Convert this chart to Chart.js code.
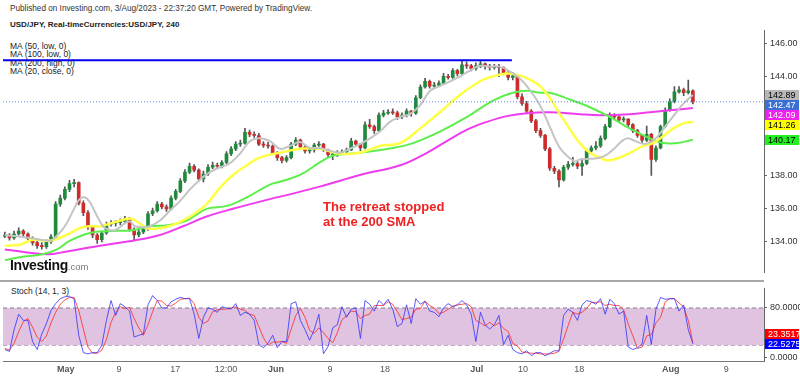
<!DOCTYPE html>
<html>
<head>
<meta charset="utf-8">
<script src="https://cdn.jsdelivr.net/npm/chart.js@4.4.0/dist/chart.umd.min.js"></script>
<style>
  body { margin:0; background:#fff; width:800px; height:376px; overflow:hidden; position:relative;
         font-family:"Liberation Sans", Arial, sans-serif; }
  canvas { position:absolute; left:0; }
  #main { top:0; }
  #stoch { top:280px; }
  .t { position:absolute; white-space:nowrap; color:#222; }
</style>
</head>
<body>
<div class="t" style="left:10px;top:4px;font-size:8.2px;color:#333">Published on Investing.com, 3/Aug/2023 - 22:37:20 GMT, Powered by TradingView.</div>
<div class="t" style="left:10px;top:20px;font-size:8px;font-weight:bold">USD/JPY, Real-timeCurrencies:USD/JPY, 240</div>
<div class="t" style="left:10px;top:41.5px;font-size:8.5px;line-height:8.5px">MA (50, low, 0)<br>MA (100, low, 0)<br>MA (200, high, 0)<br>MA (20, close, 0)</div>
<div class="t" style="left:11px;top:286px;font-size:8.5px">Stoch (14, 1, 3)</div>

<canvas id="main" width="800" height="281"></canvas>
<canvas id="stoch" width="800" height="96"></canvas>

<div class="t" style="left:323px;top:199px;font-size:13px;font-weight:bold;line-height:15px;color:#ee2222">The retreat stopped<br>at the 200 SMA</div>
<div class="t" style="left:10px;top:257px;font-size:14px;font-weight:bold;letter-spacing:-0.4px;color:#111">Investing<span style="font-size:9.5px;font-weight:normal;color:#777;letter-spacing:0">.com</span></div>

<script>
// 12h candles, index 0 = mid April, last = 3 Aug
var opens = [134.30,134.37,134.19,134.43,134.61,134.43,134.14,133.90,133.72,133.66,
  133.96,134.25,136.25,136.61,137.14,137.49,137.55,136.31,135.72,134.84,
  134.37,134.08,134.49,135.02,135.08,135.12,135.19,135.37,134.72,134.37,
  134.55,134.72,135.66,135.84,136.25,136.08,135.96,136.61,137.02,137.66,
  138.19,138.55,138.31,137.78,138.08,138.49,138.61,138.55,138.78,139.31,
  139.61,139.90,139.96,140.61,140.49,140.42,139.90,139.84,139.78,139.37,
  139.08,138.90,139.08,139.90,140.14,139.72,139.49,139.55,139.84,139.90,
  139.55,139.25,139.30,139.37,139.43,139.55,140.08,139.90,139.66,141.07,
  140.96,140.72,141.66,141.78,141.84,141.80,141.55,141.66,141.90,141.78,
  142.72,143.37,143.72,143.43,143.49,143.61,144.02,143.96,144.37,144.19,
  144.72,144.66,144.49,144.66,144.78,144.61,144.55,144.61,144.55,144.25,
  143.96,144.05,142.78,142.37,141.90,141.31,140.72,140.43,139.61,138.43,
  138.25,137.72,138.49,138.66,138.72,138.55,138.72,139.49,139.66,139.78,
  140.25,140.96,141.66,141.55,141.37,141.42,141.08,140.72,140.43,140.14,
  140.49,138.96,139.66,140.96,141.96,142.49,143.08,143.20,143.02,143.14];
var closes = [134.37,134.19,134.43,134.61,134.43,134.14,133.90,133.72,133.66,133.96,
  134.25,136.25,136.61,137.14,137.49,137.55,136.31,135.72,134.84,134.37,
  134.08,134.49,135.02,135.08,135.12,135.19,135.37,134.72,134.37,134.55,
  134.72,135.66,135.84,136.25,136.08,135.96,136.61,137.02,137.66,138.19,
  138.55,138.31,137.78,138.08,138.49,138.61,138.55,138.78,139.31,139.61,
  139.90,139.96,140.61,140.49,140.42,139.90,139.84,139.78,139.37,139.08,
  138.90,139.08,139.90,140.14,139.72,139.49,139.55,139.84,139.90,139.55,
  139.25,139.30,139.37,139.43,139.55,140.08,139.90,139.66,141.07,140.96,
  140.72,141.66,141.78,141.84,141.80,141.55,141.66,141.90,141.78,142.72,
  143.37,143.72,143.43,143.49,143.61,144.02,143.96,144.37,144.19,144.72,
  144.66,144.49,144.66,144.78,144.61,144.55,144.61,144.55,144.25,143.96,
  144.05,142.78,142.37,141.90,141.31,140.72,140.43,139.61,138.43,138.25,
  137.72,138.49,138.66,138.72,138.55,138.72,139.49,139.66,139.78,140.25,
  140.96,141.66,141.55,141.37,141.42,141.08,140.72,140.43,140.14,140.49,
  138.96,139.66,140.96,141.96,142.49,143.08,143.20,143.02,143.14,142.47];
var highs = [134.55,134.45,134.60,134.80,134.70,134.50,134.25,134.00,133.90,134.10,
  134.40,136.40,136.80,137.30,137.70,137.75,137.60,136.45,135.85,134.95,
  134.45,134.60,135.15,135.25,135.25,135.35,135.50,135.45,134.80,134.70,
  134.85,135.80,136.00,136.40,136.35,136.20,136.75,137.15,137.80,138.35,
  138.75,138.65,138.40,138.25,138.65,138.80,138.75,138.90,139.45,139.75,
  140.05,140.15,140.85,140.75,140.65,140.55,140.05,140.00,139.85,139.45,
  139.15,139.20,140.00,140.30,140.20,139.80,139.65,139.95,140.05,139.95,
  139.60,139.45,139.50,139.55,139.65,140.25,140.15,139.95,141.25,141.40,
  141.05,141.80,141.95,142.00,142.05,141.90,141.80,142.05,141.95,142.85,
  143.50,143.90,143.80,143.65,143.75,144.20,144.15,144.50,144.45,145.00,
  144.90,144.75,144.85,144.95,144.85,144.75,144.75,144.75,144.60,144.35,
  144.25,144.10,142.95,142.50,142.00,141.40,140.85,140.50,139.70,138.55,
  138.35,138.60,138.85,139.10,138.85,139.00,139.60,139.80,140.05,140.40,
  141.10,141.80,141.75,141.60,141.55,141.45,141.15,140.80,140.50,141.00,
  140.55,139.80,141.05,142.10,142.65,143.40,143.40,143.30,143.80,143.20];
var lows = [134.20,134.05,134.10,134.35,134.30,134.00,133.75,133.55,133.50,133.55,
  133.85,134.15,136.10,136.50,137.00,137.30,136.20,135.55,134.70,134.20,
  133.85,133.95,134.40,134.90,134.90,135.00,135.10,134.60,134.00,134.25,
  134.45,134.65,135.55,135.75,135.95,135.80,135.90,136.50,136.95,137.55,
  138.10,138.20,137.65,137.60,138.00,138.40,138.40,138.45,138.70,139.20,
  139.50,139.75,139.90,140.35,140.30,139.80,139.70,139.65,139.25,138.90,
  138.75,138.80,139.00,139.80,139.60,139.35,139.35,139.40,139.75,139.45,
  139.10,138.95,139.15,139.30,139.35,139.50,139.80,139.50,139.60,140.85,
  140.55,140.65,141.55,141.70,141.70,141.40,141.45,141.55,141.60,141.70,
  142.65,143.30,143.30,143.35,143.40,143.55,143.85,143.90,144.05,144.10,
  144.50,144.35,144.40,144.55,144.45,144.40,144.45,144.00,144.10,143.80,
  143.80,142.65,142.25,141.80,141.20,140.60,140.30,139.50,138.30,138.10,
  137.30,137.65,138.35,138.55,138.40,138.00,138.65,139.40,139.55,139.70,
  140.15,140.90,141.40,141.25,141.25,140.95,140.60,140.30,140.00,140.05,
  138.00,138.85,139.60,140.90,141.90,142.40,143.00,142.85,142.95,142.35];

// moving averages, sampled at candle positions
var ma20Idx = [0,5.4,9.7,10.8,13.0,15.2,16.2,17.3,18.4,19.5,20.6,21.7,23.8,26.0,27.1,28.2,30.3,31.4,33.6,35.7,37.9,40.1,42.2,44.4,46.6,48.7,50.9,53.1,55.2,57.4,59.6,61.7,63.9,66.1,68.2,70.4,72.6,74.7,76.9,79.1,81.2,83.4,85.6,87.7,89.9,92.1,94.2,96.4,98.6,100.7,102.9,105.0,107.2,109.4,111.5,113.7,115.9,118.0,120.2,122.4,123.5,124.5,127.8,130.0,132.1,133.6,134.9,136.5,138.6,140.1,141.4,143.0,145.1,146.6,147.9,149.0];
var ma20 = [134.37,134.19,134.02,134.19,134.90,136.08,136.55,136.66,136.37,135.78,135.19,134.78,134.66,135.08,135.19,134.90,134.84,134.90,135.25,135.84,136.43,137.14,137.72,138.19,138.49,138.72,139.31,140.08,140.25,140.08,139.61,139.78,140.02,139.66,139.66,139.49,139.37,139.61,139.90,140.25,140.66,141.25,141.55,141.72,142.25,143.14,143.43,143.72,144.02,144.37,144.66,144.61,144.61,144.31,143.90,143.19,142.25,140.96,139.66,139.02,138.84,138.96,139.02,139.19,139.66,140.08,140.25,140.08,139.90,140.08,140.37,140.96,141.72,142.25,142.61,142.89];
var ma50Idx = [0,3.2,6.1,9.7,13.4,16.2,18.4,20.6,24.3,27.1,28.6,30.8,33.6,37.3,40.1,43.7,46.6,49.4,52.4,55.2,59.6,63.9,68.2,72.6,76.9,81.2,85.6,89.9,94.2,98.6,102.9,105.7,108.7,111.5,114.4,115.9,118.0,120.2,122.4,124.5,126.7,128.9,130.4,132.6,135.4,138.2,140.4,142.5,144.7,146.8,149.0];
var ma50 = [133.72,133.78,134.08,134.02,134.37,134.78,134.90,134.90,135.19,135.37,135.19,134.78,134.78,135.08,135.49,136.25,137.25,138.02,138.61,139.08,139.37,139.61,139.61,139.31,139.37,139.78,139.96,140.84,141.84,142.90,143.72,144.02,144.19,144.08,143.72,143.43,142.72,141.72,140.78,139.96,139.37,139.08,138.90,139.02,139.37,139.78,139.96,140.37,140.84,141.14,141.26];
var ma100Idx = [0,3.2,8.2,11.3,14.1,18.4,22.7,27.7,31.4,35.1,39.4,43.7,48.1,52.4,57.4,59.6,63.9,68.2,71.0,76.9,84.0,88.4,94.2,100.1,105.7,110.0,113.1,115.9,118.0,122.4,126.7,131.0,135.4,139.7,142.5,145.6,147.7,149.0];
var ma100 = [132.84,133.02,133.20,133.49,134.02,134.49,134.61,134.66,134.90,134.96,135.25,135.96,136.14,136.66,137.43,137.61,138.02,138.78,139.19,139.37,139.66,139.96,140.66,141.55,142.55,143.02,143.14,143.02,143.02,142.61,142.14,141.55,140.84,140.25,139.96,139.96,140.08,140.17];
var ma200Idx = [0,4.8,9.7,13.4,20.6,27.7,33.6,38.6,43.7,49.4,57.4,61.7,68.2,76.9,85.6,91.4,95.7,100.1,104.4,108.7,113.1,118.0,124.5,128.9,135.4,139.7,144.0,149.0];
var ma200 = [133.49,133.31,133.20,133.37,133.72,134.02,134.37,134.90,135.49,135.96,136.55,136.84,137.31,138.02,138.61,139.37,140.08,140.78,141.25,141.60,141.78,141.84,141.72,141.66,141.72,141.84,141.96,142.09];

// resistance line drawn on the chart
var resistance = 145.00;
var resistanceEnd = 109.8;

// stochastic %K (blue) and %D (red)
var stochK = [13,10,45,70,60,60,26,13,38,55,
  76,87,95,98,99,94,36,8,6,8,
  8,20,60,92,68,87,82,75,33,36,
  38,85,100,92,80,80,90,94,97,95,
  95,70,31,65,80,78,73,82,80,78,
  87,68,73,70,60,21,16,23,36,16,
  26,26,87,90,60,45,28,45,70,6,
  18,48,53,82,65,78,80,31,92,86,
  75,92,85,94,78,50,55,85,55,95,
  86,91,75,73,66,80,87,82,85,92,
  85,70,26,73,53,46,53,68,21,36,
  13,8,6,11,3,8,8,3,7,11,
  11,68,78,73,60,85,92,90,86,95,
  70,94,87,70,75,17,13,16,22,68,
  21,78,97,94,95,95,75,85,45,22.5275];
var stochD = [15,12,23,42,58,63,49,33,26,35,
  56,73,86,93,97,97,76,46,17,7,
  7,12,29,57,73,82,79,81,63,48,
  36,53,74,92,91,84,83,88,94,95,
  96,87,65,55,59,74,77,78,78,80,
  82,78,76,70,68,50,32,20,25,25,
  26,23,46,68,79,65,44,39,48,40,
  31,24,40,61,67,75,74,63,68,70,
  84,84,84,90,86,74,61,63,65,78,
  79,91,84,80,71,73,78,83,85,86,
  87,82,60,56,51,57,51,56,47,42,
  23,19,9,8,7,7,6,6,6,7,
  10,30,52,73,70,73,79,89,89,90,
  84,86,84,84,77,54,35,15,17,35,
  37,56,65,90,95,95,88,82,60,23.3517];

// axis ticks
var priceTicks = [134, 136, 138, 140, 142, 144, 146];
var stochTicks = [0, 80];
var dateTickIdx = [13.2, 24.7, 36.9, 47.9, 58.7, 70.4, 82.3, 102.2, 112.2, 124.4, 144.2, 156.2];
var dateTickLabels = ['May', '9', '17', '12:00', 'Jun', '9', '18', 'Jul', '10', '18', 'Aug', '9'];

var X_MIN = -0.4, X_MAX = 164.4;
Chart.defaults.font.family = '"Liberation Sans", Arial, sans-serif';
Chart.defaults.animation = false;

function pts(xs, ys) { return xs.map(function (x, i) { return { x: x, y: ys[i] }; }); }
function seq(ys) { return ys.map(function (y, i) { return { x: i, y: y }; }); }

// coloured value boxes on the right axis
function tagPlugin(tags, dir, digits) {
  return {
    id: 'tags',
    afterDraw: function (chart) {
      var ctx = chart.ctx, ys = chart.scales.y, x0 = chart.chartArea.right + 1;
      var items = tags.map(function (t) { return Object.assign({ py: ys.getPixelForValue(t.v) }, t); });
      items.sort(function (a, b) { return dir * (a.py - b.py); });
      for (var k = 1; k < items.length; k++) {
        if (dir * (items[k].py - items[k - 1].py) < 10) items[k].py = items[k - 1].py + dir * 10;
      }
      ctx.save();
      ctx.font = '9px "Liberation Sans", Arial, sans-serif';
      ctx.textBaseline = 'middle';
      items.forEach(function (t) {
        ctx.fillStyle = t.bg;
        ctx.fillRect(x0, Math.round(t.py) - 5, 34, 10);
        ctx.fillStyle = t.fg;
        ctx.fillText(t.v.toFixed(digits), x0 + 3, Math.round(t.py) + 0.5);
      });
      ctx.restore();
    }
  };
}

var last = closes.length - 1;
var upCol = '#1f8a3c', downCol = '#cf2b2b';

new Chart(document.getElementById('main'), {
  type: 'bar',
  data: {
    datasets: [
      { type: 'line', data: [{ x: X_MIN, y: resistance }, { x: resistanceEnd, y: resistance }],
        borderColor: '#0000ee', borderWidth: 2, pointRadius: 0, order: 0 },
      { type: 'line', data: [{ x: X_MIN, y: closes[last] }, { x: X_MAX, y: closes[last] }],
        borderColor: '#5a8ae8', borderWidth: 1, borderDash: [1, 2], pointRadius: 0, order: 0 },
      { type: 'line', data: pts(ma20Idx, ma20), borderColor: '#c4c4c4', borderWidth: 2, pointRadius: 0, tension: 0.4, order: 1 },
      { type: 'line', data: pts(ma50Idx, ma50), borderColor: '#ffff44', borderWidth: 2.5, pointRadius: 0, tension: 0.4, order: 1 },
      { type: 'line', data: pts(ma100Idx, ma100), borderColor: '#5cef4c', borderWidth: 2, pointRadius: 0, tension: 0.4, order: 1 },
      { type: 'line', data: pts(ma200Idx, ma200), borderColor: '#ee3cee', borderWidth: 2, pointRadius: 0, tension: 0.4, order: 1 },
      { type: 'bar', data: closes.map(function (c, i) { return { x: i, y: [opens[i], c] }; }),
        backgroundColor: closes.map(function (c, i) { return c >= opens[i] ? upCol : downCol; }),
        barThickness: 3, minBarLength: 1, grouped: false, order: 2 },
      { type: 'bar', data: lows.map(function (l, i) { return { x: i, y: [l, highs[i]] }; }),
        backgroundColor: '#555555', barThickness: 1, grouped: false, order: 3 }
    ]
  },
  options: {
    responsive: false,
    layout: { padding: { left: 3, top: 30, right: 0, bottom: 0 } },
    plugins: { legend: { display: false }, tooltip: { enabled: false } },
    scales: {
      x: { type: 'linear', min: X_MIN, max: X_MAX, offset: false, display: false },
      y: {
        position: 'right', min: 132.08, max: 146.84,
        afterFit: function (s) { s.width = 36; },
        afterBuildTicks: function (s) { s.ticks = priceTicks.map(function (v) { return { value: v }; }); },
        ticks: { callback: function (v) { return v.toFixed(2); }, font: { size: 9 }, color: '#333', padding: 3 },
        grid: { drawOnChartArea: false, tickLength: 3, color: '#666' },
        border: { display: true, color: '#666' }
      }
    }
  },
  plugins: [tagPlugin([
    { v: ma20[ma20.length - 1], bg: '#b8b8b8', fg: '#000' },
    { v: closes[last], bg: '#3a6fd8', fg: '#fff' },
    { v: ma200[ma200.length - 1], bg: '#ee22ee', fg: '#fff' },
    { v: ma50[ma50.length - 1], bg: '#ffff00', fg: '#000' },
    { v: ma100[ma100.length - 1], bg: '#22ee22', fg: '#000' }
  ], 1, 2)]
});

new Chart(document.getElementById('stoch'), {
  type: 'line',
  data: {
    datasets: [
      { data: seq(stochK), borderColor: 'rgba(50,50,255,0.8)', borderWidth: 1, pointRadius: 0, order: 0 },
      { data: seq(stochD), borderColor: 'rgba(255,40,40,0.8)', borderWidth: 1, pointRadius: 0, order: 1 },
      { data: [{ x: X_MIN, y: 80 }, { x: X_MAX, y: 80 }], borderColor: '#8a7a8a', borderWidth: 1, borderDash: [4, 3],
        pointRadius: 0, fill: '+1', backgroundColor: '#dfc3e0', order: 2 },
      { data: [{ x: X_MIN, y: 20 }, { x: X_MAX, y: 20 }], borderColor: '#8a7a8a', borderWidth: 1, borderDash: [4, 3],
        pointRadius: 0, order: 3 }
    ]
  },
  options: {
    responsive: false,
    layout: { padding: { left: 3, top: 2, right: 0, bottom: 0 } },
    plugins: { legend: { display: false }, tooltip: { enabled: false } },
    scales: {
      x: {
        type: 'linear', min: X_MIN, max: X_MAX,
        afterFit: function (s) { s.height = 15; },
        afterBuildTicks: function (s) { s.ticks = dateTickIdx.map(function (v) { return { value: v }; }); },
        ticks: {
          autoSkip: false, maxRotation: 0, padding: 3, color: '#555',
          callback: function (v, i) { return dateTickLabels[i]; },
          font: function (c) { var l = dateTickLabels[c.index] || ''; return { size: 9, weight: /^[A-Z]/.test(l) ? 'bold' : 'normal' }; }
        },
        grid: { display: false, drawTicks: false },
        border: { display: true, color: '#777' }
      },
      y: {
        position: 'right', min: -5.48, max: 111.56,
        afterFit: function (s) { s.width = 36; },
        afterBuildTicks: function (s) { s.ticks = stochTicks.map(function (v) { return { value: v }; }); },
        ticks: { callback: function (v) { return v.toFixed(4); }, font: { size: 9 }, color: '#333', padding: 3 },
        grid: { drawOnChartArea: false, tickLength: 3, color: '#666' },
        border: { display: true, color: '#666' }
      }
    }
  },
  plugins: [{
    id: 'sep',
    beforeDraw: function (chart) {
      var ctx = chart.ctx;
      ctx.save();
      ctx.fillStyle = '#a8a8a8';
      ctx.fillRect(0, 0, chart.chartArea.right, 2);
      ctx.restore();
    }
  }, tagPlugin([
    { v: stochD[stochD.length - 1], bg: '#ff0000', fg: '#fff' },
    { v: stochK[stochK.length - 1], bg: '#0000ff', fg: '#fff' }
  ], -1, 4)]
});
</script>
</body>
</html>
